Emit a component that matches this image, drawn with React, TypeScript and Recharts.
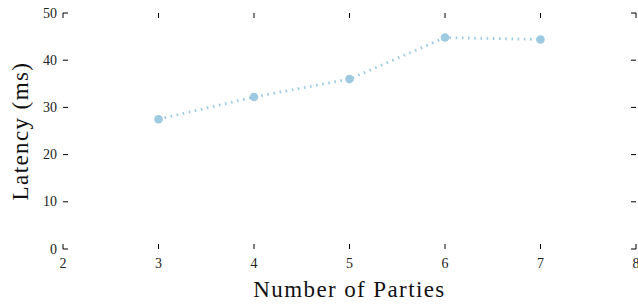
import React from 'react';
import { LineChart, Line, XAxis, YAxis } from 'recharts';

const parties = [3, 4, 5, 6, 7];
const latency = [27.5, 32.2, 36.0, 44.8, 44.4];
const xTicks = [2, 3, 4, 5, 6, 7, 8];
const yTicks = [0, 10, 20, 30, 40, 50];

const data = parties.map((p, i) => ({ parties: p, latency: latency[i] }));

const FONT = '"Liberation Serif", "DejaVu Serif", serif';
const TICK_LEN = 5;

const BottomTick = (props: any) => {
  const { x, y, payload } = props;
  return (
    <g>
      <line x1={x} y1={y} x2={x} y2={y - TICK_LEN} stroke="#000" strokeWidth={1} />
      <text x={x} y={y + 14} textAnchor="middle" dominantBaseline="central" fontFamily={FONT} fontSize={14} fill="#222">
        {payload.value}
      </text>
    </g>
  );
};

const TopTick = (props: any) => {
  const { x, y } = props;
  return <line x1={x} y1={y} x2={x} y2={y + TICK_LEN} stroke="#000" strokeWidth={1} />;
};

const LeftTick = (props: any) => {
  const { x, y, payload } = props;
  return (
    <g>
      <line x1={x} y1={y} x2={x + TICK_LEN} y2={y} stroke="#000" strokeWidth={1} />
      <text x={x - 6} y={y} textAnchor="end" dominantBaseline="central" fontFamily={FONT} fontSize={14} fill="#222">
        {payload.value}
      </text>
    </g>
  );
};

const RightTick = (props: any) => {
  const { x, y } = props;
  return <line x1={x} y1={y} x2={x - TICK_LEN} y2={y} stroke="#000" strokeWidth={1} />;
};

export default function App() {
  return (
    <div style={{ position: 'absolute', left: 0, top: 0, width: 638, height: 305, background: '#fff' }}>
      <LineChart width={638} height={305} data={data} margin={{ top: 12, right: 1, left: 0, bottom: 0 }}>
        <XAxis
          xAxisId="bottom"
          dataKey="parties"
          type="number"
          domain={[2, 8]}
          ticks={xTicks}
          allowDataOverflow
          orientation="bottom"
          height={56}
          axisLine={false}
          tickLine={false}
          tickSize={0}
          tickMargin={0}
          interval={0}
          tick={<BottomTick />}
          label={{ value: 'Number of Parties', position: 'insideBottom', offset: 8, style: { fontFamily: FONT, fontSize: 23, fill: '#111', letterSpacing: 1.4 } }}
        />
        <XAxis
          xAxisId="top"
          dataKey="parties"
          type="number"
          domain={[2, 8]}
          ticks={xTicks}
          allowDataOverflow
          orientation="top"
          height={1}
          axisLine={false}
          tickLine={false}
          tickSize={0}
          tickMargin={0}
          interval={0}
          tick={<TopTick />}
        />
        <YAxis
          yAxisId="left"
          type="number"
          domain={[0, 50]}
          ticks={yTicks}
          allowDataOverflow
          orientation="left"
          width={63}
          axisLine={false}
          tickLine={false}
          tickSize={0}
          tickMargin={0}
          interval={0}
          tick={<LeftTick />}
          label={{ value: 'Latency (ms)', angle: -90, position: 'insideLeft', offset: 20, style: { textAnchor: 'middle', fontFamily: FONT, fontSize: 23, fill: '#111', letterSpacing: 1.4 } }}
        />
        <YAxis
          yAxisId="right"
          type="number"
          domain={[0, 50]}
          ticks={yTicks}
          allowDataOverflow
          orientation="right"
          width={1}
          axisLine={false}
          tickLine={false}
          tickSize={0}
          tickMargin={0}
          interval={0}
          tick={<RightTick />}
        />
        <Line
          xAxisId="bottom"
          yAxisId="left"
          type="linear"
          dataKey="latency"
          stroke="#9ecae1"
          strokeWidth={2.8}
          strokeDasharray="1.6 4.6"
          dot={{ r: 4.3, fill: '#9ecae1', stroke: '#9ecae1', strokeWidth: 0 }}
          isAnimationActive={false}
        />
        <Line
          xAxisId="top"
          yAxisId="right"
          type="linear"
          dataKey="latency"
          stroke="none"
          dot={false}
          activeDot={false}
          legendType="none"
          isAnimationActive={false}
        />
      </LineChart>
    </div>
  );
}
